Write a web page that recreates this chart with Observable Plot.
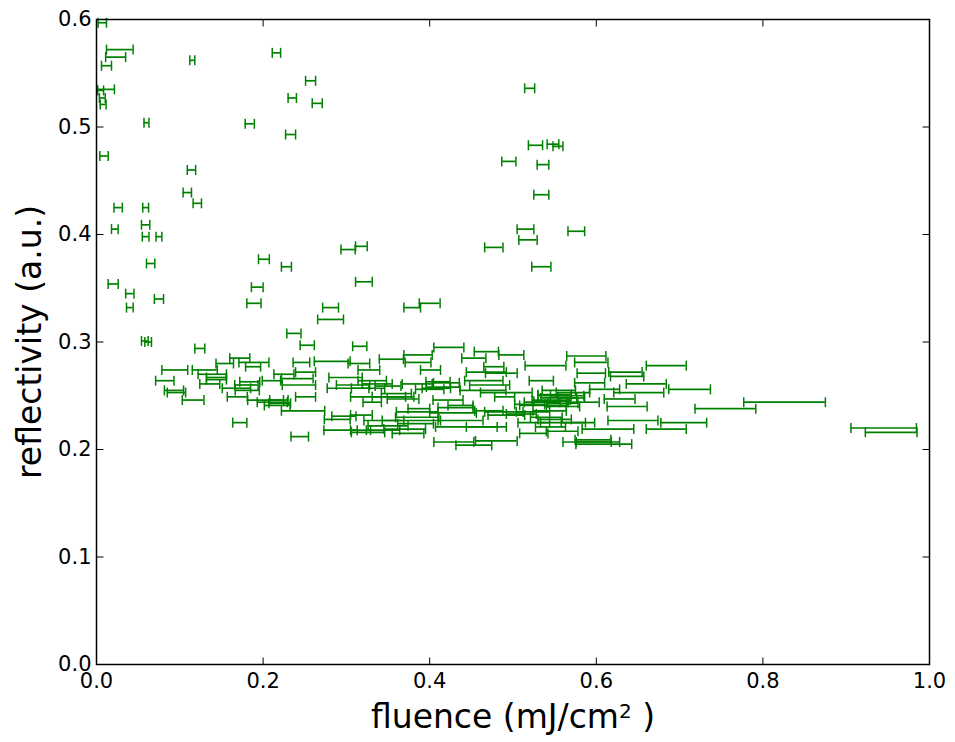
<!DOCTYPE html>
<html>
<head>
<meta charset="utf-8">
<script src="https://cdn.jsdelivr.net/npm/d3@7"></script>
<script src="https://cdn.jsdelivr.net/npm/@observablehq/plot@0.6"></script>
<style>
  html, body { margin: 0; padding: 0; background: #fff; }
  #chart { width: 955px; height: 742px; }
</style>
</head>
<body>
<div id="chart"></div>
<script>
// Fluence (mJ/cm^2), reflectivity (a.u.), fluence half-error (mJ/cm^2)
const fluence = [
  0.007,0.028,0.023,0.012,0.115,0.216,0.257,0.235,0.265,0.184,0.233,0.060,0.009,0.011,0.005,0.007,0.008,
  0.114,0.109,0.121,0.026,0.059,0.022,0.059,0.059,0.075,0.065,0.020,0.040,0.075,0.040,0.058,0.062,
  0.201,0.228,0.193,0.189,0.281,0.281,0.237,0.253,0.124,
  0.520,0.527,0.548,0.554,0.495,0.536,0.534,0.515,0.518,0.576,0.477,0.534,0.302,0.318,0.321,0.379,0.400,
  0.316,0.172,0.094,0.130,0.154,0.189,0.188,0.283,0.246,0.315,0.082,0.093,0.096,0.116,0.144,0.144,0.139,
  0.184,0.168,0.181,0.169,0.203,0.219,0.172,0.244,0.217,0.225,0.241,0.210,0.251,0.243,0.251,0.248,0.302,
  0.299,0.289,0.293,0.317,0.297,0.308,
  0.423,0.468,0.498,0.386,0.453,0.354,0.386,0.539,0.477,0.401,0.327,0.486,0.331,0.337,0.534,0.385,0.410,
  0.465,0.472,0.464,0.492,0.326,0.416,0.368,0.331,0.422,0.546,0.490,0.431,0.387,0.385,0.437,0.489,0.524,
  0.544,0.318,0.345,0.378,0.437,0.383,0.444,0.468,0.525,0.326,0.374,0.525,0.429,0.453,0.480,
  0.588,0.594,0.684,0.594,0.635,0.637,0.592,0.660,0.712,0.651,0.610,0.572,0.628,0.637,0.755,0.826,0.644,
  0.705,0.614,0.684,0.578,0.596,0.602,0.609,0.589,0.945,0.954,
  0.520,0.535,0.510,0.555,0.540,0.565,0.350,0.360,0.400,0.420,
  0.338,0.356,0.408,0.468,0.385,0.428,0.471,0.492,0.350,0.370,0.550,0.536,0.550,0.555,0.344,
  0.136,0.180,0.211,0.220,0.550,0.545,0.560,0.570,0.585,0.560,0.560,0.559,0.545
];
const reflectivity = [
  0.597,0.572,0.565,0.557,0.562,0.569,0.543,0.527,0.522,0.503,0.493,0.504,0.473,0.535,0.534,0.527,0.521,
  0.460,0.439,0.429,0.425,0.425,0.405,0.409,0.398,0.398,0.373,0.354,0.345,0.340,0.332,0.301,0.300,
  0.377,0.370,0.351,0.336,0.332,0.321,0.308,0.297,0.294,
  0.536,0.483,0.484,0.482,0.468,0.465,0.437,0.405,0.395,0.403,0.388,0.370,0.386,0.389,0.356,0.332,0.336,
  0.296,0.285,0.274,0.274,0.280,0.281,0.277,0.282,0.281,0.280,0.264,0.255,0.253,0.246,0.267,0.265,0.270,
  0.263,0.257,0.255,0.249,0.246,0.246,0.225,0.212,0.241,0.270,0.266,0.264,0.272,0.260,0.249,0.236,0.257,
  0.267,0.228,0.218,0.218,0.231,0.260,
  0.295,0.291,0.288,0.288,0.285,0.284,0.281,0.278,0.277,0.274,0.274,0.271,0.264,0.261,0.264,0.261,0.263,
  0.264,0.260,0.255,0.253,0.257,0.258,0.247,0.244,0.246,0.246,0.249,0.239,0.238,0.235,0.241,0.235,0.235,
  0.236,0.232,0.227,0.227,0.227,0.224,0.221,0.221,0.225,0.216,0.215,0.215,0.207,0.204,0.208,
  0.287,0.281,0.278,0.271,0.272,0.268,0.262,0.261,0.256,0.253,0.256,0.253,0.247,0.240,0.238,0.244,0.227,
  0.225,0.219,0.219,0.225,0.209,0.207,0.205,0.207,0.220,0.216,
  0.242,0.244,0.233,0.248,0.230,0.250,0.259,0.252,0.256,0.262,
  0.249,0.249,0.257,0.272,0.230,0.234,0.236,0.232,0.222,0.219,0.228,0.241,0.251,0.255,0.218,
  0.261,0.260,0.244,0.243,0.250,0.245,0.243,0.248,0.244,0.240,0.225,0.217,0.221
];
const fluenceErr = [
  0.005,0.016,0.012,0.006,0.003,0.005,0.006,0.005,0.006,0.0055,0.006,0.003,0.005,0.0105,0.0035,0.0035,0.0035,
  0.005,0.005,0.005,0.005,0.0035,0.004,0.005,0.004,0.0035,0.005,0.006,0.005,0.0055,0.004,0.004,0.004,
  0.0065,0.006,0.007,0.0085,0.0095,0.0155,0.0085,0.0085,0.006,
  0.006,0.0085,0.007,0.006,0.0085,0.007,0.009,0.010,0.011,0.010,0.011,0.0115,0.0085,0.007,0.010,0.010,0.0125,
  0.0085,0.012,0.0155,0.015,0.0105,0.018,0.009,0.0215,0.010,0.013,0.011,0.0115,0.011,0.013,0.012,0.012,0.017,
  0.012,0.017,0.0145,0.012,0.0215,0.011,0.0085,0.0105,0.0155,0.012,0.019,0.011,0.012,0.020,0.012,0.026,0.025,
  0.020,0.0155,0.020,0.012,0.0145,0.020,
  0.018,0.0145,0.015,0.017,0.0145,0.0145,0.0155,0.0245,0.012,0.012,0.013,0.019,0.017,0.018,0.0145,0.018,0.0145,
  0.023,0.024,0.0275,0.031,0.020,0.020,0.019,0.011,0.018,0.023,0.012,0.021,0.013,0.025,0.015,0.023,0.020,
  0.020,0.013,0.024,0.035,0.027,0.0215,0.037,0.024,0.019,0.020,0.019,0.017,0.024,0.0215,0.025,
  0.0235,0.020,0.024,0.017,0.020,0.020,0.018,0.024,0.025,0.030,0.018,0.020,0.0185,0.024,0.0365,0.049,0.030,
  0.0275,0.031,0.024,0.020,0.0215,0.026,0.0335,0.029,0.0393,0.031,
  0.018,0.0215,0.018,0.0215,0.019,0.020,0.0155,0.018,0.017,0.0155,
  0.033,0.025,0.017,0.024,0.026,0.028,0.017,0.022,0.024,0.025,0.020,0.028,0.020,0.020,0.020,
  0.012,0.014,0.018,0.013,0.020,0.020,0.018,0.016,0.0185,0.020,0.027,0.019,0.018
];
const xTicks = [0.0, 0.2, 0.4, 0.6, 0.8, 1.0];
const yTicks = [0.0, 0.1, 0.2, 0.3, 0.4, 0.5, 0.6];
const xLabel = "fluence (mJ/cm² )";
const yLabel = "reflectivity (a.u.)";

const rows = fluence.map((f, i) => ({x: f, y: reflectivity[i], e: fluenceErr[i]}));

const green = "#008000";
const FONT = "DejaVu Sans";

// custom symbols: vertical cap and inward ticks
const cap = {draw(ctx, size) { const h = Math.sqrt(size / Math.PI); ctx.moveTo(0, -h); ctx.lineTo(0, h); }};
const tickUp = {draw(ctx, size) { const h = Math.sqrt(size / Math.PI); ctx.moveTo(0, 0); ctx.lineTo(0, -h); }};
const tickDown = {draw(ctx, size) { const h = Math.sqrt(size / Math.PI); ctx.moveTo(0, 0); ctx.lineTo(0, h); }};
const tickRight = {draw(ctx, size) { const h = Math.sqrt(size / Math.PI); ctx.moveTo(0, 0); ctx.lineTo(h, 0); }};
const tickLeft = {draw(ctx, size) { const h = Math.sqrt(size / Math.PI); ctx.moveTo(0, 0); ctx.lineTo(-h, 0); }};

const chart = Plot.plot({
  width: 955,
  height: 742,
  marginLeft: 96,
  marginRight: 26,
  marginTop: 19,
  marginBottom: 78,
  style: {fontFamily: FONT, background: "#fff", color: "#000"},
  x: {domain: [0, 1], label: null},
  y: {domain: [0, 0.6], label: null},
  marks: [
    Plot.ruleY(rows, {y: "y", x1: d => d.x - d.e, x2: d => d.x + d.e, stroke: green, strokeWidth: 1.7}),
    Plot.dot(rows, {x: d => d.x - d.e, y: "y", symbol: cap, r: 5, stroke: green, strokeWidth: 1.5, fill: "none"}),
    Plot.dot(rows, {x: d => d.x + d.e, y: "y", symbol: cap, r: 5, stroke: green, strokeWidth: 1.5, fill: "none"}),
    Plot.dot(xTicks, {x: d => d, y: 0, symbol: tickUp, r: 7, stroke: "#000", strokeWidth: 1}),
    Plot.dot(xTicks, {x: d => d, y: 0.6, symbol: tickDown, r: 7, stroke: "#000", strokeWidth: 1}),
    Plot.dot(yTicks, {x: 0, y: d => d, symbol: tickRight, r: 7, stroke: "#000", strokeWidth: 1}),
    Plot.dot(yTicks, {x: 1, y: d => d, symbol: tickLeft, r: 7, stroke: "#000", strokeWidth: 1}),
    Plot.frame({stroke: "#000", strokeWidth: 1.5}),
    Plot.axisX(xTicks, {tickSize: 0, tickPadding: 9, fontSize: 21, tickFormat: d3.format(".1f"), label: null}),
    Plot.axisY(yTicks, {tickSize: 0, tickPadding: 5, fontSize: 21, tickFormat: d3.format(".1f"), label: null}),
    Plot.text([xLabel], {frameAnchor: "bottom", dy: 63, fontSize: 33, lineAnchor: "bottom", textAnchor: "middle", fill: "#000"}),
    Plot.text([yLabel], {frameAnchor: "left", dx: -66, rotate: -90, fontSize: 33, textAnchor: "middle", fill: "#000"})
  ]
});
document.getElementById("chart").appendChild(chart);

// render the superscript of the x label like the original (smaller, raised "2")
const ns = "http://www.w3.org/2000/svg";
chart.querySelectorAll("text").forEach(t => {
  if (t.textContent === xLabel) {
    t.textContent = "";
    const a = document.createElementNS(ns, "tspan");
    a.textContent = "fluence (mJ/cm";
    const b = document.createElementNS(ns, "tspan");
    b.textContent = "2";
    b.setAttribute("font-size", "20px");
    b.setAttribute("dy", "-9.5");
    const c = document.createElementNS(ns, "tspan");
    c.textContent = " )";
    c.setAttribute("dy", "9.5");
    t.append(a, b, c);
  }
});
</script>
</body>
</html>
